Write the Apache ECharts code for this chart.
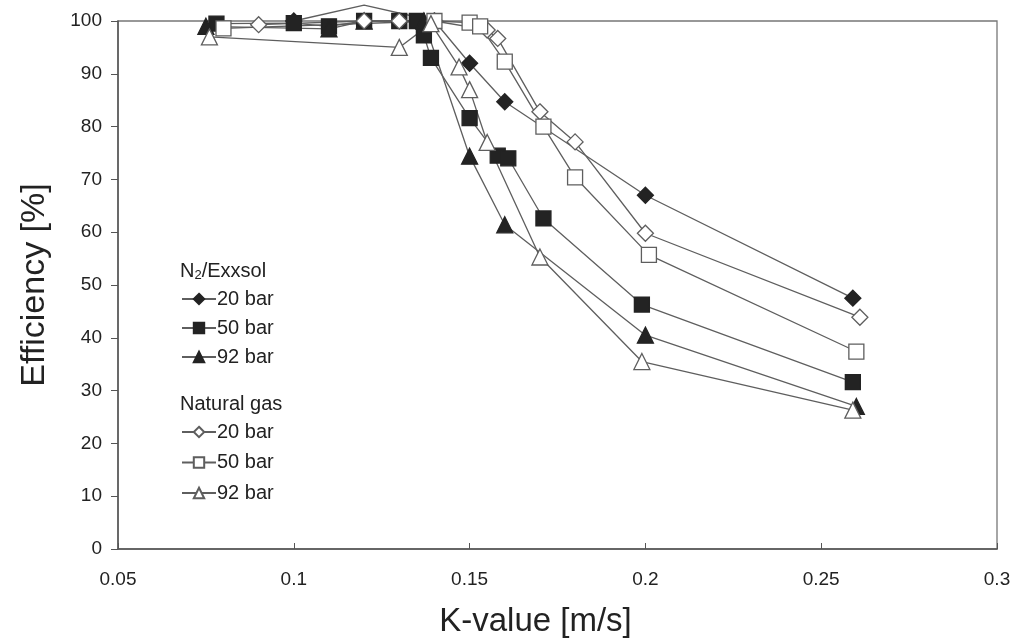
<!DOCTYPE html>
<html>
<head>
<meta charset="utf-8">
<script src="https://cdn.jsdelivr.net/npm/echarts@6/dist/echarts.min.js"></script>
<style>
  html, body { margin: 0; padding: 0; background: #fff; }
  #chart { width: 1011px; height: 641px; }
</style>
</head>
<body>
<div id="chart"></div>
<script>
// K-value [m/s] / efficiency [%]
const exx20K = [0.10, 0.12, 0.14, 0.15, 0.16, 0.20, 0.259];
const exx20Eff = [100, 103, 100, 92, 84.7, 67, 47.5];

const exx50K = [0.078, 0.10, 0.11, 0.12, 0.13, 0.135, 0.137, 0.139, 0.15, 0.158, 0.161, 0.171, 0.199, 0.259];
const exx50Eff = [99.5, 99.6, 99, 100, 100, 100, 97.3, 93, 81.6, 74.5, 74, 62.6, 46.3, 31.6];

const exx92K = [0.075, 0.11, 0.12, 0.137, 0.15, 0.16, 0.20, 0.26];
const exx92Eff = [99, 98.5, 100, 100, 74.4, 61.4, 40.5, 27];

const ng20K = [0.09, 0.12, 0.13, 0.14, 0.155, 0.158, 0.17, 0.18, 0.20, 0.261];
const ng20Eff = [99.3, 100, 100, 100, 98.3, 96.7, 82.8, 77.1, 59.8, 43.9];

const ng50K = [0.08, 0.14, 0.15, 0.153, 0.16, 0.171, 0.18, 0.201, 0.26];
const ng50Eff = [98.6, 100, 99.7, 99, 92.3, 80, 70.4, 55.7, 37.4];

const ng92K = [0.076, 0.13, 0.139, 0.147, 0.15, 0.155, 0.17, 0.199, 0.259];
const ng92Eff = [97, 95, 99.5, 91.3, 87, 77, 55.3, 35.5, 26.3];

const groupNames = ['N2/Exxsol', 'Natural gas'];
const pressures = ['20 bar', '50 bar', '92 bar'];

const yMax = 100;
const lineColor = '#5e5e5e';
const darkFill = '#232323';
const font = 'Liberation Sans';

const chart = echarts.init(document.getElementById('chart'));

// markers above the axis max are not drawn (like the original)
function toData(ks, effs) {
    return ks.map((k, i) => effs[i] > yMax
        ? { value: [k, effs[i]], symbol: 'none' }
        : [k, effs[i]]);
}

function makeSeries(name, ks, effs, symbol, size, filled) {
    return {
        name: name,
        type: 'line',
        data: toData(ks, effs),
        symbol: symbol,
        symbolSize: size,
        clip: false,
        showAllSymbol: true,
        lineStyle: { color: lineColor, width: 1.3 },
        itemStyle: {
            color: filled ? darkFill : '#fff',
            borderColor: filled ? darkFill : lineColor,
            borderWidth: 1.3
        },
        emphasis: { disabled: true }
    };
}

const series = [
    makeSeries(groupNames[0] + ': ' + pressures[0], exx20K, exx20Eff, 'diamond', 16, true),
    makeSeries(groupNames[0] + ': ' + pressures[1], exx50K, exx50Eff, 'rect', 15, true),
    makeSeries(groupNames[0] + ': ' + pressures[2], exx92K, exx92Eff, 'triangle', 16, true),
    makeSeries(groupNames[1] + ': ' + pressures[0], ng20K, ng20Eff, 'diamond', 16, false),
    makeSeries(groupNames[1] + ': ' + pressures[1], ng50K, ng50Eff, 'rect', 15, false),
    makeSeries(groupNames[1] + ': ' + pressures[2], ng92K, ng92Eff, 'triangle', 16, false)
];

const legendCommon = {
    orient: 'vertical',
    left: 176,
    itemWidth: 34,
    itemHeight: 13,
    selectedMode: false,
    textStyle: { fontFamily: font, fontSize: 20, color: '#222', padding: [0, 0, 0, -4] },
    formatter: n => n.slice(n.indexOf(':') + 2)
};

const option = {
    animation: false,
    backgroundColor: '#fff',
    grid: {
        left: 118, right: 14, top: 21, bottom: 92,
        outerBoundsMode: 'none',
        show: true, borderColor: '#777', borderWidth: 1.3
    },
    xAxis: {
        type: 'value',
        min: 0.05, max: 0.3, interval: 0.05,
        name: 'K-value [m/s]',
        nameLocation: 'middle',
        nameGap: 56,
        nameTextStyle: { fontFamily: font, fontSize: 33, color: '#222', padding: [0, 44, 0, 0] },
        axisLine: { lineStyle: { color: '#555', width: 1.5 } },
        axisTick: { inside: true, length: 6, lineStyle: { color: '#555' } },
        axisLabel: {
            fontFamily: font, fontSize: 19, color: '#222', margin: 21,
            formatter: v => String(parseFloat(v.toFixed(2)))
        },
        splitLine: { show: false }
    },
    yAxis: {
        type: 'value',
        min: 0, max: yMax, interval: 10,
        name: 'Efficiency [%]',
        nameLocation: 'middle',
        nameGap: 66,
        nameTextStyle: { fontFamily: font, fontSize: 34, color: '#222' },
        axisLine: { show: true, lineStyle: { color: '#555', width: 1.5 } },
        axisTick: { show: true, length: 7, lineStyle: { color: '#555' } },
        axisLabel: { fontFamily: font, fontSize: 19, color: '#222', margin: 16 },
        splitLine: { show: false }
    },
    legend: [
        Object.assign({}, legendCommon, { top: 284, itemGap: 9, data: series.slice(0, 3).map(s => s.name) }),
        Object.assign({}, legendCommon, { top: 417, itemGap: 10.5, data: series.slice(3).map(s => s.name) })
    ],
    graphic: [
        {
            type: 'text', left: 180, top: 261,
            style: {
                text: 'N{sub|2}/Exxsol',
                font: '20px "Liberation Sans"', fill: '#222',
                rich: { sub: { fontSize: 13, fontFamily: font, verticalAlign: 'bottom', padding: [9, 0, 0, 0] } }
            }
        },
        {
            type: 'text', left: 180, top: 394,
            style: { text: groupNames[1], font: '20px "Liberation Sans"', fill: '#222' }
        }
    ],
    series: series
};

chart.setOption(option);
</script>
</body>
</html>
